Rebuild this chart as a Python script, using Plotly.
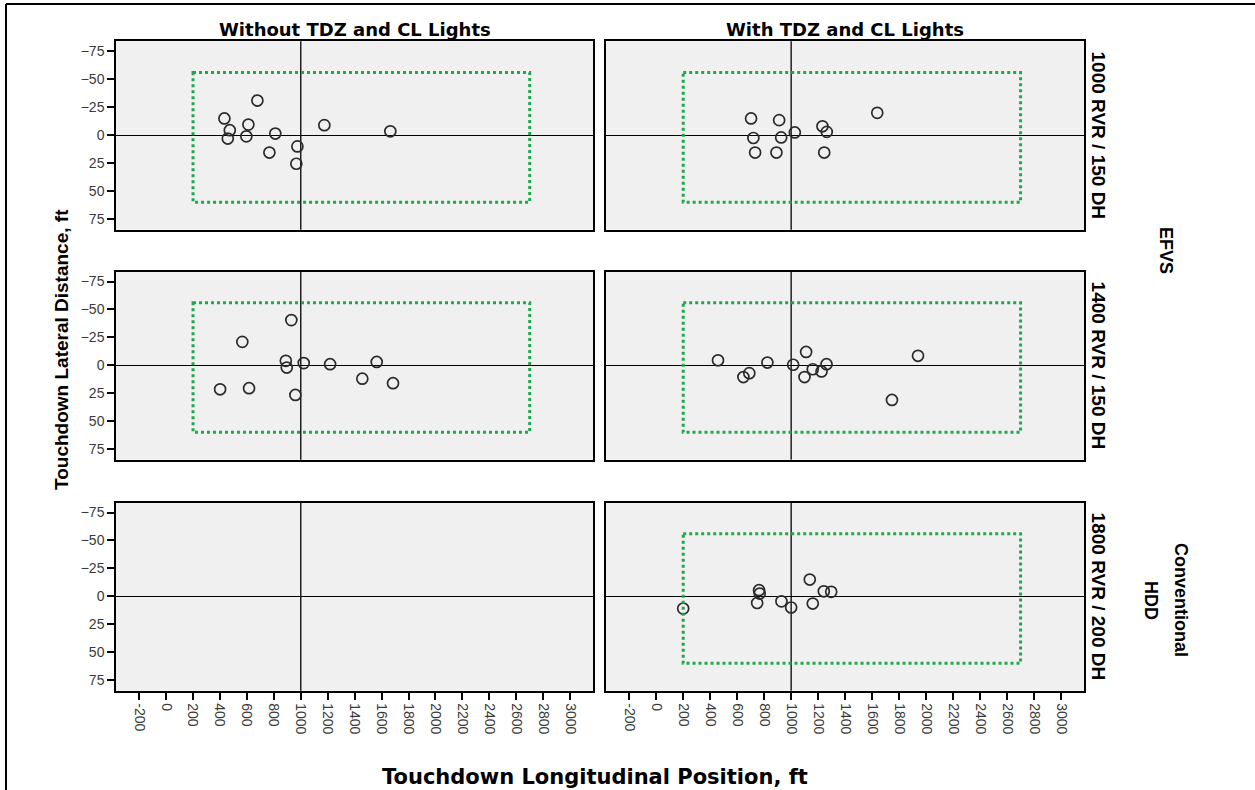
import plotly.graph_objects as go
from plotly.subplots import make_subplots

W, H = 1255, 790

# ---------------- data (ft) ----------------
col_titles = ["Without TDZ and CL Lights", "With TDZ and CL Lights"]
row_labels = ["1000 RVR / 150 DH", "1400 RVR / 150 DH", "1800 RVR / 200 DH"]
group_labels = ["EFVS", "Conventional", "HDD"]

x_ticks = list(range(-200, 3001, 200))
y_ticks = [-75, -50, -25, 0, 25, 50, 75]

# row 1: 1000 RVR / 150 DH
r1_without_x = [678, 433, 611, 473, 458, 596, 811, 767, 975, 967, 1175, 1665]
r1_without_y = [-31, -15, -9.5, -4.5, 3, 1, -1.5, 15.5, 10, 25.5, -9, -3.5]
r1_with_x = [703, 911, 720, 926, 733, 891, 1027, 1232, 1264, 1245, 1638]
r1_with_y = [-15, -13.5, 2.5, 2, 15.5, 15.5, -2.5, -8, -3, 15.5, -20]

# row 2: 1400 RVR / 150 DH
r2_without_x = [930, 566, 889, 896, 1022, 1218, 1564, 1457, 1685, 401, 616, 960]
r2_without_y = [-40.5, -21, -4, 2, -2, -1, -3, 12, 16, 21.5, 20.5, 26.5]
r2_with_x = [458, 824, 1015, 1111, 1262, 1160, 1225, 1099, 690, 646, 1747, 1940]
r2_with_y = [-4.5, -2.5, -0.5, -12, -1, 3.5, 5.5, 10.5, 7, 10.5, 31, -8.5]

# row 3: 1800 RVR / 200 DH
r3_without_x = []
r3_without_y = []
r3_with_x = [200, 762, 767, 748, 928, 1000, 1138, 1242, 1297, 1160]
r3_with_y = [11, -5.5, -2.5, 6, 4.5, 10, -15, -4.5, -4, 6.5]

# touchdown zone box
box_x = [200, 2700]
box_y = [-56, 60]
center_x = 1000

panels = [
    (1, 1, r1_without_x, r1_without_y, True),
    (1, 2, r1_with_x, r1_with_y, True),
    (2, 1, r2_without_x, r2_without_y, True),
    (2, 2, r2_with_x, r2_with_y, True),
    (3, 1, r3_without_x, r3_without_y, False),
    (3, 2, r3_with_x, r3_with_y, True),
]

# ---------------- layout geometry (pixels) ----------------
col_px = [(116, 593), (606, 1084)]
row_px = [(41.3, 229.7), (271.5, 459.7), (502.5, 690.7)]


def px_x(p):
    return p / W


def px_y(p):
    return 1 - p / H


fig = make_subplots(rows=3, cols=2)

FONT = "Liberation Sans, Arial, sans-serif"
WIDE = "DejaVu Sans, Liberation Sans, Arial, sans-serif"

for (r, c, xs, ys, has_box) in panels:
    idx = (r - 1) * 2 + c
    fig.add_trace(
        go.Scatter(
            x=xs, y=ys, mode="markers",
            marker=dict(symbol="circle-open", size=11,
                        line=dict(width=1.7, color="#2b2b2b"), color="#2b2b2b"),
            showlegend=False, hoverinfo="x+y",
        ),
        row=r, col=c,
    )
    xn = "x" if idx == 1 else f"x{idx}"
    yn = "y" if idx == 1 else f"y{idx}"
    # vertical reference line at 1000 ft
    fig.add_shape(type="line", xref=xn, yref=f"{yn} domain",
                  x0=center_x, x1=center_x, y0=0, y1=1,
                  line=dict(color="black", width=1.3), layer="below")
    if has_box:
        fig.add_shape(type="rect", xref=xn, yref=yn,
                      x0=box_x[0], x1=box_x[1], y0=box_y[0], y1=box_y[1],
                      line=dict(color="#1ea84b", width=3, dash="dot"),
                      layer="above")

    x0, x1 = col_px[c - 1]
    yt, yb = row_px[r - 1]
    fig.update_xaxes(
        row=r, col=c,
        domain=[px_x(x0), px_x(x1)],
        range=[-372, 3170],
        showgrid=False, zeroline=False,
        showline=True, linecolor="black", linewidth=1.5, mirror=True,
        tickvals=x_ticks if r == 3 else [],
        ticktext=[str(v) for v in x_ticks] if r == 3 else [],
        ticks="outside" if r == 3 else "",
        ticklen=8, tickwidth=1.5, tickcolor="black",
        tickangle=90,
        tickfont=dict(family=FONT, size=14, color="#3a3a3a"),
        showticklabels=(r == 3),
    )
    fig.update_yaxes(
        row=r, col=c,
        domain=[px_y(yb), px_y(yt)],
        range=[84.5, -84],
        showgrid=False,
        zeroline=True, zerolinecolor="black", zerolinewidth=1.3,
        showline=True, linecolor="black", linewidth=1.5, mirror=True,
        tickvals=y_ticks if c == 1 else [],
        ticks="outside" if c == 1 else "",
        ticklen=7, tickwidth=1.5, tickcolor="black",
        tickfont=dict(family=FONT, size=14, color="#3a3a3a"),
        showticklabels=(c == 1),
    )

annotations = []
# column titles
for i, t in enumerate(col_titles):
    x0, x1 = col_px[i]
    annotations.append(dict(
        text=f"<b>{t}</b>", x=px_x((x0 + x1) / 2), y=px_y(30),
        xref="paper", yref="paper", showarrow=False,
        xanchor="center", yanchor="middle",
        font=dict(family=WIDE, size=18, color="black"),
    ))
# row labels
for i, t in enumerate(row_labels):
    yt, yb = row_px[i]
    annotations.append(dict(
        text=f"<b>{t}</b>", x=px_x(1098), y=px_y((yt + yb) / 2),
        xref="paper", yref="paper", showarrow=False, textangle=90,
        xanchor="center", yanchor="middle",
        font=dict(family=FONT, size=19, color="black"),
    ))
# group labels
for t, gx, gy in [(group_labels[0], 1166, 250),
                  (group_labels[1], 1181, 600),
                  (group_labels[2], 1151, 600)]:
    annotations.append(dict(
        text=f"<b>{t}</b>", x=px_x(gx), y=px_y(gy),
        xref="paper", yref="paper", showarrow=False, textangle=90,
        xanchor="center", yanchor="middle",
        font=dict(family=FONT, size=18, color="black"),
    ))
# axis titles
annotations.append(dict(
    text="<b>Touchdown Longitudinal Position, ft</b>", x=px_x(595), y=px_y(777),
    xref="paper", yref="paper", showarrow=False,
    xanchor="center", yanchor="middle",
    font=dict(family=WIDE, size=21, color="black"),
))
annotations.append(dict(
    text="<b>Touchdown Lateral Distance, ft</b>", x=px_x(62), y=px_y(350),
    xref="paper", yref="paper", showarrow=False, textangle=-90,
    xanchor="center", yanchor="middle",
    font=dict(family=FONT, size=19, color="black"),
))

# outer frame lines (top and left)
fig.add_shape(type="line", xref="paper", yref="paper",
              x0=px_x(6), x1=1, y0=px_y(4), y1=px_y(4),
              line=dict(color="black", width=2))
fig.add_shape(type="line", xref="paper", yref="paper",
              x0=px_x(6), x1=px_x(6), y0=px_y(4), y1=0,
              line=dict(color="black", width=2))

fig.update_layout(
    width=W, height=H,
    margin=dict(l=0, r=0, t=0, b=0),
    paper_bgcolor="white",
    plot_bgcolor="#f0f0f0",
    annotations=annotations,
    font=dict(family=FONT),
)

fig.write_html(
    "out.html",
    config={"displayModeBar": False},
    post_script="document.body.style.margin='0px';"
                "document.body.style.padding='0px';"
                "document.body.style.overflow='hidden';",
)
